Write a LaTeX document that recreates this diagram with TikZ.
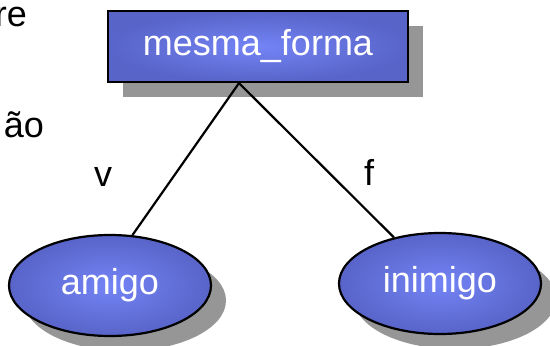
\documentclass[tikz,border=0pt]{standalone}
\usepackage{fontspec}
\setmainfont{Liberation Sans}
\definecolor{mNodeIn}{HTML}{7484F6}
\definecolor{mNodeOut}{HTML}{5864C8}
\definecolor{mShadow}{HTML}{969696}
\usetikzlibrary{shapes.geometric,shadows}
\tikzset{
  dnode/.style={draw=black, line width=2.2pt, inner color=mNodeIn, outer color=mNodeOut,
    text=white, font=\fontsize{36}{43}\selectfont, inner sep=0pt,
    drop shadow={shadow xshift=15pt, shadow yshift=-15pt, fill=mShadow, opacity=1}},
  dbox/.style={dnode, rectangle, minimum width=300pt, minimum height=71pt},
  dleaf/.style={dnode, ellipse, minimum width=202pt, minimum height=101pt},
  dlabel/.style={font=\fontsize{36}{43}\selectfont, text=black, inner sep=0pt},
  dedge/.style={draw=black, line width=2.2pt}
}

\begin{document}
\begin{tikzpicture}[x=1pt, y=-1pt]
\useasboundingbox[fill=white] (0,0) rectangle (550,346);
% cut-off slide text on the left
\node[dlabel, anchor=base east] (txta) at (27,26) {re};
\node[dlabel, anchor=base east] (txtb) at (44,137) {ão};
% tree
\node[dbox] (forma) at (258,46.5) {mesma\_forma};
\node[dleaf] (amigo) at (110,285.5) {amigo};
\node[dleaf] (inimigo) at (440,283.5) {inimigo};
\coordinate (apex) at ([xshift=-19pt]forma.south);
\draw[dedge] (apex) -- (amigo.66);
\draw[dedge] (apex) -- (inimigo.135);
\node[dlabel, anchor=base] (lv) at (103,186) {v};
\node[dlabel, anchor=base] (lf) at (369,185) {f};
\end{tikzpicture}
\end{document}
